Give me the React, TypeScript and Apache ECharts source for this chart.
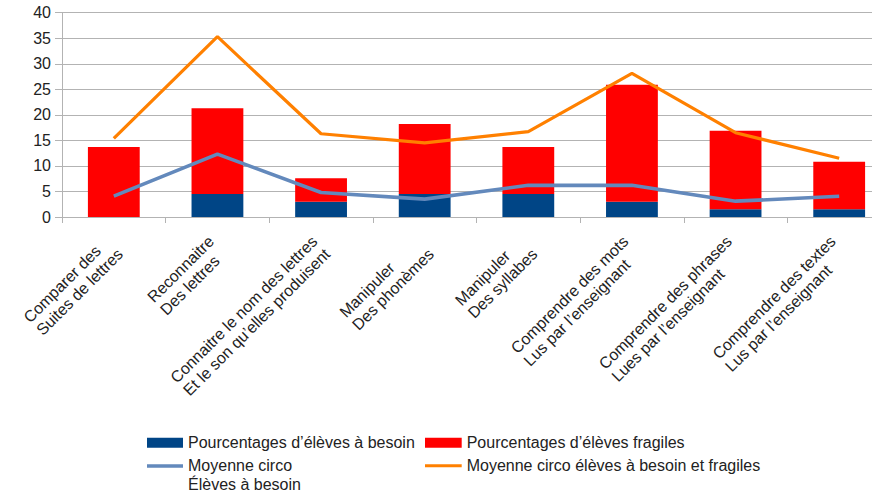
import React, { useEffect, useRef } from "react";
import * as echarts from "echarts";

const categories = [
  "Comparer des\nSuites de lettres",
  "Reconnaitre\nDes lettres",
  "Connaitre le nom des lettres\nEt le son qu’elles produisent",
  "Manipuler\nDes phonèmes",
  "Manipuler\nDes syllabes",
  "Comprendre des mots\nLus par l’enseignant",
  "Comprendre des phrases\nLues par l’enseignant",
  "Comprendre des textes\nLus par l’enseignant",
];

const besoinValues = [0, 4.5, 3, 4.5, 4.5, 3, 1.5, 1.5];
const fragilesValues = [13.7, 16.8, 4.6, 13.7, 9.2, 22.9, 15.4, 9.3];
const moyenneBesoin = [4.1, 12.3, 4.8, 3.5, 6.2, 6.2, 3.1, 4.05];
const moyenneBesoinFragiles = [15.4, 35.3, 16.3, 14.5, 16.7, 28.1, 16.5, 11.5];

const yTicks = { min: 0, max: 40, interval: 5 };

const NAME_BESOIN = "Pourcentages d’élèves à besoin";
const NAME_FRAGILES = "Pourcentages d’élèves fragiles";
const NAME_MOY_B = "Moyenne circo\nÉlèves à besoin";
const NAME_MOY_BF = "Moyenne circo élèves à besoin et fragiles";

const FONT = "Liberation Sans, Arial, sans-serif";
const TEXT = "#222222";
const GRID = "#b3b3b3";
const BLUE_LINE = "#6389bc";

export default function App() {
  const ref = useRef<HTMLDivElement>(null);
  useEffect(() => {
    if (!ref.current) return;
    const chart = echarts.init(ref.current, null, { renderer: "svg" });
    const legendText = { color: TEXT, fontSize: 16, fontFamily: FONT, lineHeight: 19 };
    chart.setOption({
      animation: false,
      textStyle: { fontFamily: FONT },
      grid: { left: 62, top: 12.7, right: 0, bottom: 277 },
      xAxis: {
        type: "category",
        data: categories,
        axisLine: { lineStyle: { color: GRID, width: 1 } },
        axisTick: { show: true, length: 6, lineStyle: { color: GRID } },
        axisLabel: {
          interval: 0,
          rotate: 45,
          margin: 28,
          color: TEXT,
          fontSize: 16,
          fontFamily: FONT,
          formatter: (v: string) =>
            v
              .split("\n")
              .map((s) => `{l|${s}}`)
              .join("\n"),
          rich: {
            l: { fontSize: 16, lineHeight: 18, color: TEXT, fontFamily: FONT, align: "left" },
          },
        },
      },
      yAxis: {
        type: "value",
        min: yTicks.min,
        max: yTicks.max,
        interval: yTicks.interval,
        axisLine: { show: true, lineStyle: { color: GRID, width: 1 } },
        axisTick: { show: true, length: 7, lineStyle: { color: GRID } },
        splitLine: { lineStyle: { color: GRID, width: 1 } },
        axisLabel: { color: TEXT, fontSize: 16, fontFamily: FONT, margin: 11 },
      },
      legend: [
        {
          data: [NAME_BESOIN],
          left: 147,
          top: 433.2,
          padding: 0,
          itemWidth: 36,
          itemHeight: 10,
          itemGap: 0,
          icon: "rect",
          textStyle: legendText,
        },
        {
          data: [NAME_FRAGILES],
          left: 425,
          top: 433.2,
          padding: 0,
          itemWidth: 36.7,
          itemHeight: 10,
          itemGap: 0,
          icon: "rect",
          textStyle: legendText,
        },
        {
          data: [NAME_MOY_B],
          left: 147,
          top: 456.2,
          padding: 0,
          itemWidth: 36,
          itemHeight: 22,
          itemGap: 0,
          icon: "path://M0,0L36,0L36,3.5L0,3.5Z M0,22L0.01,22L0,22Z",
          textStyle: legendText,
        },
        {
          data: [NAME_MOY_BF],
          left: 425,
          top: 456.2,
          padding: 0,
          itemWidth: 36.7,
          itemHeight: 3,
          itemGap: 0,
          icon: "rect",
          textStyle: legendText,
        },
      ],
      series: [
        {
          name: NAME_BESOIN,
          type: "bar",
          stack: "total",
          barWidth: "50%",
          data: besoinValues,
          itemStyle: { color: "#004586" },
        },
        {
          name: NAME_FRAGILES,
          type: "bar",
          stack: "total",
          barWidth: "50%",
          data: fragilesValues,
          itemStyle: { color: "#ff0000" },
        },
        {
          name: NAME_MOY_B,
          type: "line",
          data: moyenneBesoin,
          symbol: "none",
          color: BLUE_LINE,
          lineStyle: { color: BLUE_LINE, width: 3.6 },
          z: 5,
        },
        {
          name: NAME_MOY_BF,
          type: "line",
          data: moyenneBesoinFragiles,
          symbol: "none",
          color: "#ff8000",
          lineStyle: { color: "#ff8000", width: 3.2 },
          z: 6,
        },
      ],
    });
    return () => chart.dispose();
  }, []);
  return (
    <div
      style={{
        position: "fixed",
        left: 0,
        top: 0,
        width: 872,
        height: 494,
        overflow: "hidden",
        background: "#ffffff",
      }}
    >
      <div ref={ref} style={{ width: 891, height: 494 }} />
    </div>
  );
}
